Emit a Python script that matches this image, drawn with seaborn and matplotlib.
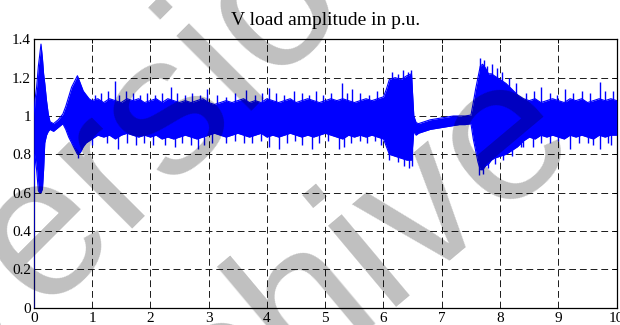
import numpy as np
import pandas as pd
import matplotlib
matplotlib.use("Agg")
import matplotlib.pyplot as plt
import seaborn as sns

# ---------------- data ----------------
t_env = [0.0, 0.005, 0.02, 0.05, 0.08, 0.10, 0.125, 0.15, 0.17, 0.19, 0.22, 0.25, 0.28,
         0.34, 0.42, 0.50, 0.55, 0.60, 0.65, 0.70, 0.75, 0.80, 0.85, 0.90, 0.95, 1.0,
         1.1, 1.2, 1.3, 1.4, 1.5, 1.6, 1.7, 1.8, 1.9, 2.0,
         2.1, 2.2, 2.3, 2.4, 2.5, 2.6, 2.7, 2.8, 2.9, 3.0,
         3.1, 3.2, 3.3, 3.4, 3.5, 3.6, 3.7, 3.8, 3.9, 4.0,
         4.1, 4.2, 4.3, 4.4, 4.5, 4.6, 4.7, 4.8, 4.9, 5.0,
         5.1, 5.2, 5.3, 5.4, 5.5, 5.6, 5.7, 5.8, 5.9, 6.0,
         6.05, 6.1, 6.2, 6.3, 6.4, 6.48, 6.52, 6.56, 6.6, 6.7, 6.8, 6.9, 7.0,
         7.1, 7.2, 7.3, 7.4, 7.5, 7.54, 7.58, 7.62, 7.66, 7.7, 7.75, 7.8, 7.85, 7.9,
         8.0, 8.1, 8.2, 8.3, 8.4, 8.5, 8.6, 8.7, 8.8, 8.9, 9.0,
         9.1, 9.2, 9.3, 9.4, 9.5, 9.6, 9.7, 9.8, 9.9, 10.0]

v_upper = [0.0, 0.98, 1.08, 1.15, 1.26, 1.31, 1.375, 1.30, 1.22, 1.17, 1.08, 1.01, 0.97,
           0.96, 0.98, 1.01, 1.05, 1.10, 1.15, 1.18, 1.21, 1.17, 1.13, 1.11, 1.09, 1.08,
           1.09, 1.07, 1.09, 1.08, 1.07, 1.09, 1.08, 1.09, 1.07, 1.08,
           1.09, 1.07, 1.09, 1.08, 1.07, 1.08, 1.07, 1.08, 1.09, 1.07,
           1.06, 1.07, 1.08, 1.07, 1.08, 1.09, 1.07, 1.08, 1.07, 1.09,
           1.08, 1.07, 1.08, 1.09, 1.07, 1.08, 1.09, 1.08, 1.07, 1.08,
           1.09, 1.08, 1.09, 1.08, 1.07, 1.08, 1.09, 1.08, 1.09, 1.10,
           1.14, 1.19, 1.20, 1.19, 1.21, 1.22, 1.00, 0.965, 0.96, 0.97, 0.98, 0.985, 0.99,
           0.995, 1.0, 1.0, 1.0, 1.005, 1.07, 1.14, 1.20, 1.26, 1.27, 1.25, 1.22, 1.22, 1.21,
           1.19, 1.17, 1.14, 1.11, 1.09, 1.08, 1.09, 1.07, 1.08, 1.09, 1.08,
           1.07, 1.09, 1.08, 1.09, 1.07, 1.08, 1.09, 1.08, 1.09, 1.08]

v_lower = [0.0, 0.62, 0.80, 0.72, 0.61, 0.60, 0.60, 0.62, 0.72, 0.86, 0.90, 0.92, 0.93,
           0.92, 0.94, 0.96, 0.93, 0.89, 0.86, 0.83, 0.80, 0.81, 0.84, 0.86, 0.87, 0.88,
           0.90, 0.89, 0.90, 0.88, 0.90, 0.91, 0.90, 0.89, 0.90, 0.89,
           0.90, 0.88, 0.89, 0.88, 0.89, 0.90, 0.89, 0.88, 0.89, 0.90,
           0.91, 0.90, 0.89, 0.90, 0.91, 0.90, 0.89, 0.90, 0.91, 0.89,
           0.90, 0.89, 0.90, 0.91, 0.90, 0.89, 0.90, 0.89, 0.90, 0.91,
           0.90, 0.89, 0.88, 0.90, 0.89, 0.90, 0.89, 0.90, 0.89, 0.88,
           0.84, 0.80, 0.79, 0.78, 0.77, 0.77, 0.92, 0.90, 0.91, 0.92, 0.93, 0.935, 0.94,
           0.945, 0.95, 0.955, 0.955, 0.96, 0.88, 0.82, 0.76, 0.72, 0.72, 0.74, 0.75, 0.77, 0.78,
           0.79, 0.80, 0.82, 0.84, 0.87, 0.89, 0.88, 0.90, 0.89, 0.90, 0.89,
           0.88, 0.90, 0.89, 0.90, 0.89, 0.88, 0.90, 0.89, 0.90, 0.90]

spike_up_t = [1.05, 1.15, 1.28, 1.39, 1.47, 1.58, 1.70, 1.83, 1.95, 2.08, 2.20, 2.36, 2.45,
              2.60, 2.72, 2.85, 2.98, 3.15, 3.30, 3.46, 3.64, 3.80, 3.92, 4.03, 4.15, 4.30,
              4.46, 4.60, 4.72, 4.84, 4.97, 5.10, 5.29, 5.37, 5.46, 5.60, 5.75, 5.89,
              6.15, 6.25, 6.33, 6.42, 6.47, 7.66, 7.72, 7.78, 7.86, 7.95, 8.03, 8.15, 8.27,
              8.45, 8.58, 8.71, 8.85, 8.98, 9.12, 9.25, 9.40, 9.55, 9.71, 9.80, 9.94]
spike_up_v = [1.11, 1.12, 1.13, 1.18, 1.11, 1.13, 1.12, 1.11, 1.12, 1.11, 1.12, 1.15, 1.12,
              1.11, 1.12, 1.11, 1.14, 1.11, 1.10, 1.12, 1.135, 1.11, 1.12, 1.145, 1.12, 1.11,
              1.13, 1.12, 1.11, 1.13, 1.11, 1.12, 1.17, 1.12, 1.14, 1.12, 1.11, 1.13,
              1.23, 1.22, 1.24, 1.23, 1.24, 1.30, 1.29, 1.26, 1.27, 1.25, 1.23, 1.20, 1.17,
              1.12, 1.13, 1.15, 1.12, 1.11, 1.14, 1.12, 1.13, 1.12, 1.175, 1.13, 1.13]

spike_lo_t = [0.76, 1.00, 1.25, 1.44, 1.60, 1.75, 1.90, 2.05, 2.26, 2.42, 2.55, 2.70, 2.82,
              2.92, 3.05, 3.30, 3.45, 3.60, 3.75, 3.90, 4.04, 4.21, 4.35, 4.48, 4.61, 4.77,
              4.90, 5.05, 5.24, 5.32, 5.45, 5.60, 5.72, 5.85, 5.95, 6.10, 6.25, 6.35, 6.44,
              6.49, 7.64, 7.70, 7.80, 7.92, 8.05, 8.20, 8.35, 8.40, 8.57, 8.70, 8.85, 9.00,
              9.20, 9.35, 9.50, 9.60, 9.71, 9.85, 9.91]
spike_lo_v = [0.78, 0.85, 0.86, 0.83, 0.86, 0.85, 0.86, 0.85, 0.85, 0.84, 0.86, 0.85, 0.83,
              0.85, 0.86, 0.86, 0.87, 0.86, 0.86, 0.87, 0.84, 0.83, 0.86, 0.87, 0.85, 0.83,
              0.86, 0.87, 0.83, 0.84, 0.86, 0.87, 0.86, 0.87, 0.85, 0.77, 0.76, 0.74, 0.73,
              0.74, 0.69, 0.70, 0.73, 0.75, 0.77, 0.79, 0.84, 0.84, 0.84, 0.86, 0.86, 0.87,
              0.83, 0.86, 0.86, 0.85, 0.83, 0.86, 0.85]

x_ticks = [0, 1, 2, 3, 4, 5, 6, 7, 8, 9, 10]
y_ticks = [0, 0.2, 0.4, 0.6, 0.8, 1.0, 1.2, 1.4]
title_text = "V load amplitude in p.u."
watermark_1 = "Version"
watermark_2 = "archive"

# ---------------- drawing ----------------
sns.set_theme(style="white")
plt.rcParams["font.family"] = ["Liberation Serif", "DejaVu Serif"]

fig = plt.figure(figsize=(6.2, 3.25), dpi=100)
ax = fig.add_axes([33.7 / 620, 17.3 / 325, 583 / 620, 268.4 / 325])

blue = "#0000ff"
env = pd.DataFrame({"t": t_env, "upper": v_upper, "lower": v_lower})
ax.fill_between(env["t"], env["lower"], env["upper"], color=blue, lw=0, zorder=3)
sns.lineplot(data=env, x="t", y="upper", color=blue, lw=0.8, ax=ax, zorder=3)
sns.lineplot(data=env, x="t", y="lower", color=blue, lw=0.8, ax=ax, zorder=3)
ax.vlines(spike_up_t, 1.0, spike_up_v, color=blue, lw=1.0, zorder=3)
ax.vlines(spike_lo_t, spike_lo_v, 1.0, color=blue, lw=1.0, zorder=3)

ax.set_xlim(0, 10)
ax.set_ylim(0, 1.4)
ax.set_xticks(x_ticks)
ax.set_yticks(y_ticks)
ax.set_xticklabels([f"{v:g}" for v in x_ticks])
ax.set_yticklabels([f"{v:g}" for v in y_ticks])
ax.set_xlabel("")
ax.set_ylabel("")
ax.tick_params(direction="in", length=3, width=0.7, top=True, right=True,
               labelsize=11, pad=2, colors="black")
ax.tick_params(axis="x", pad=3)
ax.grid(True, color="0.1", linestyle=(0, (7, 4)), linewidth=0.7)
ax.set_axisbelow(True)
for s in ax.spines.values():
    s.set_visible(True)
    s.set_color("black")
    s.set_linewidth(0.9)
ax.set_title(title_text, fontsize=14, pad=10, color="black")

# watermark
for txt, (px, py), rot in ((watermark_1, (158, 130), 45), (watermark_2, (300, 312), 40)):
    fig.text(px / 620, 1 - py / 325, txt, rotation=rot, rotation_mode="anchor",
             ha="center", va="center", fontsize=145, fontweight="normal",
             family="Liberation Sans", color="black", alpha=0.25, zorder=10)

fig.savefig("out.png", dpi=100)
